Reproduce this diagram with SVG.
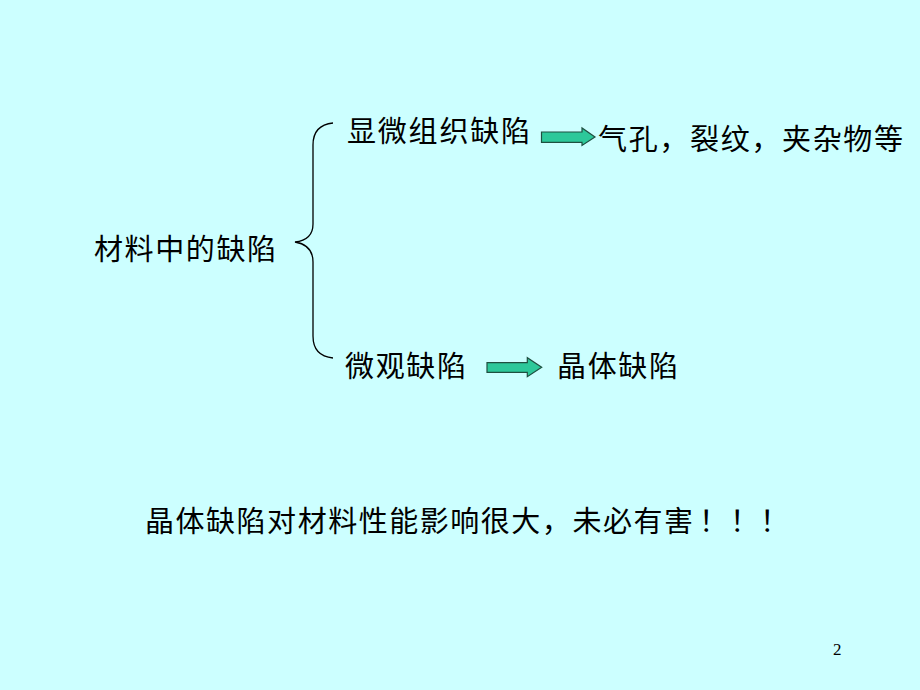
<svg xmlns="http://www.w3.org/2000/svg" width="920" height="690" viewBox="0 0 920 690">
<style>
.t{font-family:"Noto Sans CJK SC","Liberation Serif",serif;font-size:29px;fill:#000;}
.ar{fill:#2DC89A;stroke:#1F4F40;stroke-width:1.2;}
.br{fill:none;stroke:#000;stroke-width:1.3;}
</style>
<rect width="920" height="690" fill="#CCFFFF"/>
<g id="root"><text class="t" x="94" y="260" textLength="182">材料中的缺陷</text></g>
<g id="macro"><text class="t" x="347" y="142" textLength="183">显微组织缺陷</text></g>
<g id="macro-ex"><text class="t" x="598" y="150" textLength="305">气孔，裂纹，夹杂物等</text></g>
<g id="micro"><text class="t" x="345" y="377" textLength="121">微观缺陷</text></g>
<g id="crystal"><text class="t" x="557" y="377" textLength="121">晶体缺陷</text></g>
<g id="note"><text class="t" x="145" y="532" textLength="548">晶体缺陷对材料性能影响很大，未必有害</text><text class="t" x="699 730 760" y="532">！！！</text></g>
<g id="page"><text x="833" y="655" font-family="Liberation Serif,serif" font-size="17">2</text></g>
<g id="connectors">
<path class="br" d="M333,123 Q313,125 313,145 L313,224 Q313,240 295,242 Q313,245 313,262 L313,336 Q313,356 333,358"/>
<path class="ar" d="M541.5,132 L582,132 L582,128 L595,137 L582,145.5 L582,142.3 L541.5,142.3 Z"/>
<path class="ar" d="M487,362.7 L527.3,362.7 L527.3,357.7 L541.7,367.3 L527.3,376.7 L527.3,372.3 L487,372.3 Z"/>
</g>
</svg>
